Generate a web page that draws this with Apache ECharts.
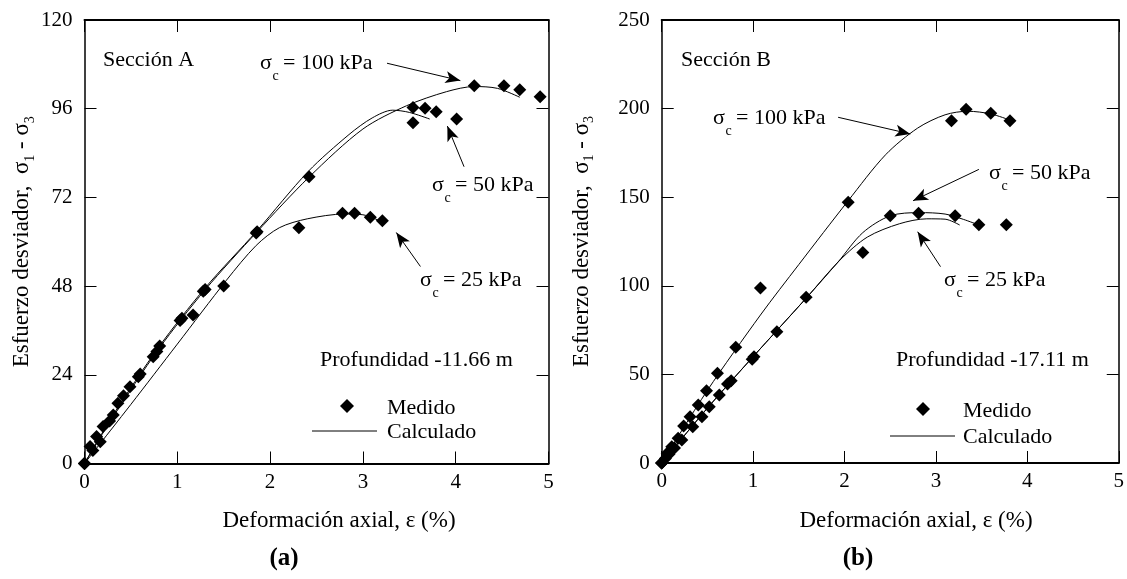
<!DOCTYPE html>
<html>
<head>
<meta charset="utf-8">
<script src="https://cdn.jsdelivr.net/npm/echarts@6/dist/echarts.min.js"></script>
<style>
  html, body { margin: 0; padding: 0; background: #fff; }
  #chart { width: 1127px; height: 579px; }
</style>
</head>
<body>
<div id="chart"></div>
<script>
// axis ranges
var xMax = 5, xStep = 1;
var yMaxA = 120, yStepA = 24;
var yMaxB = 250, yStepB = 50;

// Sección A, measured (diamonds)
var measA100 = [[0,0],[0.13,7.3],[0.31,13.1],[0.49,20.8],[0.74,28.9],[1.05,39.3],[1.3,47.1],[1.86,62.7],[2.42,77.6],[4.2,102.2],[4.52,102.2],[4.69,101.1],[4.91,99.2]];
var measA50 = [[0,0],[0.06,4.6],[0.2,10],[0.36,16.3],[0.58,23.5],[0.81,31.8],[1.28,46.6],[1.85,62.4],[3.54,96.3],[3.67,96.1],[3.79,95.2],[3.54,92.2],[4.01,93.2]];
var measA25 = [[0,0],[0.09,3.5],[0.17,5.9],[0.27,11.5],[0.42,18.3],[0.6,24.2],[0.78,30.3],[1.03,38.7],[1.17,40.2],[1.5,48],[2.31,63.8],[2.78,67.7],[2.91,67.7],[3.08,66.6],[3.21,65.7]];
// Sección A, calculated (lines)
var calcA100 = [[0,0],[0.3,12.3],[0.8,31],[1.3,47],[1.86,62.7],[2.42,77.5],[3.0,90.5],[3.47,96.8],[3.9,100.6],[4.2,102],[4.45,101.5],[4.69,99.1]];
var calcA50 = [[0,0],[0.3,12.8],[0.8,31.5],[1.3,47.5],[1.86,63],[2.41,79],[2.85,89],[3.1,93.5],[3.32,95.6],[3.5,95],[3.72,93.2]];
var calcA25 = [[0,0],[0.5,16],[1.0,32.3],[1.53,49.6],[1.85,59],[2.1,63.8],[2.4,66.2],[2.8,67.5],[3.0,67.3],[3.22,65.2]];

// Sección B, measured
var measB100 = [[0,0],[0.06,5.5],[0.11,9.2],[0.18,13.9],[0.24,20.9],[0.31,26.1],[0.4,32.7],[0.49,40.8],[0.61,50.6],[0.81,65.3],[1.08,98.8],[2.04,147.2],[3.17,193.2],[3.33,199.6],[3.6,197.4],[3.81,193.2]];
var measB50 = [[0,0],[0.04,2.5],[0.14,8.5],[0.34,20.5],[0.52,31.8],[0.72,44.6],[1.01,60],[1.58,93.5],[2.5,139.5],[2.81,141],[3.21,139.5],[3.47,134.4],[3.77,134.4]];
var measB25 = [[0,0],[0.08,5],[0.22,13],[0.44,26.1],[0.63,38.4],[0.76,46.4],[0.99,58.5],[1.26,74.1],[2.2,118.8]];
// Sección B, calculated
var calcB100 = [[0,0],[0.5,41],[1.08,83.5],[1.5,112],[2.04,148],[2.45,174],[2.8,189],[3.1,196.5],[3.35,198.5],[3.6,197],[3.81,193.5]];
var calcB50 = [[0,0],[0.5,31],[1.0,60],[1.58,93],[1.93,113.5],[2.2,130],[2.5,139.5],[2.82,141.3],[3.1,140.5],[3.3,137.5],[3.47,134.3]];
var calcB25 = [[0,0],[0.5,31],[1.0,60],[1.58,93],[1.95,114.5],[2.25,127.5],[2.6,135],[2.9,137.8],[3.1,137.6],[3.26,134.3]];

// annotation arrows, [from, to] in data units
var arrowA100 = [[3.26,108.3],[4.05,103.6]];
var arrowA50 = [[4.09,80.3],[3.91,91.3]];
var arrowA25 = [[3.62,53.3],[3.36,62.5]];
var arrowB100 = [[1.93,195.1],[2.72,185.7]];
var arrowB50 = [[3.47,165.7],[2.75,148.0]];
var arrowB25 = [[3.05,110.8],[2.80,130.5]];

var FONT = 'Liberation Serif';
var chart = echarts.init(document.getElementById('chart'));

function xAx(grid, pos) {
  return {
    gridIndex: grid, type: 'value', position: pos, min: 0, max: xMax, interval: xStep,
    axisLine: { show: true, onZero: false, lineStyle: { color: '#000', width: 2 } },
    axisTick: { show: true, inside: true, length: 12, lineStyle: { color: '#000', width: 1 } },
    axisLabel: { show: pos === 'bottom', color: '#000', fontFamily: FONT, fontSize: 21, margin: 8 },
    splitLine: { show: false }
  };
}
function yAx(grid, pos, max, step, name, gap) {
  return {
    gridIndex: grid, type: 'value', position: pos, min: 0, max: max, interval: step,
    axisLine: { show: true, onZero: false, lineStyle: { color: '#000', width: 1.5 } },
    axisTick: { show: true, inside: true, length: 12, lineStyle: { color: '#000', width: 1 } },
    axisLabel: { show: pos === 'left', color: '#000', fontFamily: FONT, fontSize: 21, margin: 12 },
    splitLine: { show: false },
    name: name || '', nameLocation: 'middle', nameGap: gap || 0,
    nameTextStyle: {
      color: '#000', fontFamily: FONT,
      rich: {
        m: { fontSize: 23, fontFamily: FONT, color: '#000', lineHeight: 30 },
        s: { fontSize: 14, fontFamily: FONT, color: '#000', lineHeight: 14, verticalAlign: 'bottom' }
      }
    }
  };
}
var yName = '{m|Esfuerzo desviador,  σ}{s|1}{m| - σ}{s|3}';

function measured(data, xi) {
  return {
    type: 'scatter', xAxisIndex: xi, yAxisIndex: xi, data: data, clip: false,
    symbol: 'diamond', symbolSize: 13, itemStyle: { color: '#000', opacity: 1 }, silent: true
  };
}
function calculated(data, xi, arrow) {
  return {
    type: 'line', xAxisIndex: xi, yAxisIndex: xi, data: data, smooth: 0.3,
    showSymbol: false, lineStyle: { color: '#000', width: 1 }, silent: true,
    markLine: {
      silent: true, symbol: ['none', 'arrow'], symbolSize: [9, 15],
      lineStyle: { color: '#000', width: 1, type: 'solid' },
      itemStyle: { color: '#000' },
      label: { show: false },
      data: [[{ coord: arrow[0] }, { coord: arrow[1] }]]
    }
  };
}

function txt(x, y, s, size, extra) {
  var st = { text: s, fontFamily: FONT, fontSize: size, fill: '#000', verticalAlign: 'middle', align: 'left' };
  if (extra) for (var k in extra) st[k] = extra[k];
  return { type: 'text', x: x, y: y, style: st, silent: true };
}
function sigmaLabel(x, y, rest) {
  return [txt(x, y, 'σ', 22), txt(x + 12.5, y + 13, 'c', 14), txt(x + 23, y, rest, 22)];
}
function legendBlock(dx, dy, lx, ly) {
  return [
    { type: 'polygon', shape: { points: [[dx, dy - 7], [dx + 7, dy], [dx, dy + 7], [dx - 7, dy]] }, style: { fill: '#000' }, silent: true },
    txt(dx + 40, dy + 2, 'Medido', 22),
    { type: 'line', shape: { x1: lx, y1: ly, x2: lx + 65, y2: ly }, style: { stroke: '#000', lineWidth: 1 }, silent: true },
    txt(dx + 40, ly + 1, 'Calculado', 22)
  ];
}

var graphics = [].concat(
  [txt(103, 60, 'Sección A', 22), txt(681, 60, 'Sección B', 22)],
  sigmaLabel(260, 63, '= 100 kPa'),
  sigmaLabel(432, 185, '= 50 kPa'),
  sigmaLabel(420, 280, '= 25 kPa'),
  sigmaLabel(713, 118, '= 100 kPa'),
  sigmaLabel(989, 173, '= 50 kPa'),
  sigmaLabel(944, 280, '= 25 kPa'),
  [txt(320, 360, 'Profundidad -11.66 m', 22), txt(896, 360, 'Profundidad -17.11 m', 22)],
  legendBlock(347, 406, 312, 431),
  legendBlock(923, 409, 890, 436),
  [
    txt(339, 521, 'Deformación axial, ε (%)', 23, { align: 'center' }),
    txt(916, 521, 'Deformación axial, ε (%)', 23, { align: 'center' }),
    txt(284, 559, '(a)', 25, { align: 'center', fontWeight: 'bold' }),
    txt(858, 559, '(b)', 25, { align: 'center', fontWeight: 'bold' })
  ]
);

chart.setOption({
  animation: false,
  backgroundColor: '#fff',
  grid: [
    { left: 84.5, top: 20, width: 464, height: 443.5 },
    { left: 661.7, top: 20, width: 463, height: 443 }
  ],
  xAxis: [xAx(0, 'bottom'), xAx(0, 'top'), xAx(1, 'bottom'), xAx(1, 'top')],
  yAxis: [
    yAx(0, 'left', yMaxA, yStepA, yName, 44),
    yAx(0, 'right', yMaxA, yStepA),
    yAx(1, 'left', yMaxB, yStepB, yName, 65),
    yAx(1, 'right', yMaxB, yStepB)
  ],
  series: [
    calculated(calcA100, 0, arrowA100),
    calculated(calcA50, 0, arrowA50),
    calculated(calcA25, 0, arrowA25),
    measured(measA100, 0), measured(measA50, 0), measured(measA25, 0),
    calculated(calcB100, 2, arrowB100),
    calculated(calcB50, 2, arrowB50),
    calculated(calcB25, 2, arrowB25),
    measured(measB100, 2), measured(measB50, 2), measured(measB25, 2)
  ],
  graphic: graphics
});
</script>
</body>
</html>
